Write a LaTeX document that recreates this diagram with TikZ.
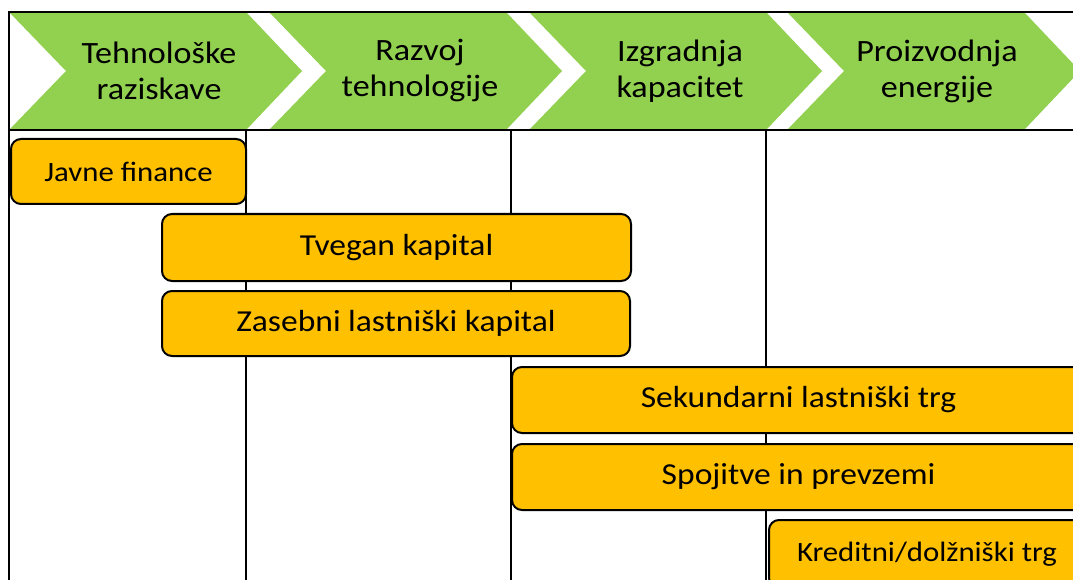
\documentclass[tikz,border=0pt]{standalone}
\usepackage{fontspec}
\setmainfont{Carlito}[FakeStretch=1.1]
\definecolor{chevgreen}{HTML}{92D050}
\definecolor{boxorange}{HTML}{FFC000}
\tikzset{
  frameline/.style={line width=2pt, black},
  chev/.style={fill=chevgreen, draw=none},
  chevtext/.style={align=center, font=\fontsize{31}{36}\selectfont, inner sep=0pt},
  fbox/.style={draw=black, line width=2pt, fill=boxorange, rounded corners=10pt, inner sep=0pt, anchor=north west},
  bigtext/.style={font=\fontsize{30.5}{36}\selectfont},
  smalltext/.style={font=\fontsize{28}{34}\selectfont}
}
\begin{document}
\begin{tikzpicture}[x=1pt,y=-1pt]
\useasboundingbox (0,0) rectangle (1073,580);
\clip (0,0) rectangle (1073,580);
\fill[white] (0,0) rectangle (1073,580);
% chevrons
\foreach \x/\n in {10/1,270/2,530/3,788/4}{
  \fill[chev] (\x,13) -- (\x+237,13) -- (\x+292,71) -- (\x+237,129) -- (\x,129) -- (\x+56,71) -- cycle;
}
\node[chevtext] (h1) at (159,71) {Tehnološke\\raziskave};
\node[chevtext] (h2) at (420,71) {Razvoj\\tehnologije};
\node[chevtext] (h3) at (680,71) {Izgradnja\\kapacitet};
\node[chevtext] (h4) at (937,71) {Proizvodnja\\energije};
% frame
\coordinate (tl) at (9,12);
\coordinate (tr) at (1080,12);
\coordinate (hl) at (9,130);
\coordinate (hr) at (1080,130);
\coordinate (bl) at (9,590);
\draw[frameline] (tr) -- (tl) -- (bl);
\draw[frameline] (hl) -- (hr);
\coordinate (v1t) at (246,130); \coordinate (v1b) at (246,590);
\coordinate (v2t) at (511,130); \coordinate (v2b) at (511,590);
\coordinate (v3t) at (766,130); \coordinate (v3b) at (766,590);
\draw[frameline] (v1t) -- (v1b);
\draw[frameline] (v2t) -- (v2b);
\draw[frameline] (v3t) -- (v3b);
% boxes
\node[fbox, minimum width=235pt, minimum height=65pt, smalltext] (b1) at (10,138) {Javne finance};
\node[fbox, minimum width=469pt, minimum height=67pt, bigtext] (b2) at (161,213) {Tvegan kapital};
\node[fbox, minimum width=468pt, minimum height=65pt, bigtext] (b3) at (161,290) {Zasebni lastniški kapital};
\node[fbox, minimum width=573pt, minimum height=66pt, bigtext] (b4) at (511,366) {Sekundarni lastniški trg};
\node[fbox, minimum width=573pt, minimum height=66pt, bigtext] (b5) at (511,443) {Spojitve in prevzemi};
\node[fbox, minimum width=316pt, minimum height=68pt, smalltext] (b6) at (768,519) {Kreditni/dolžniški trg};
\end{tikzpicture}
\end{document}
